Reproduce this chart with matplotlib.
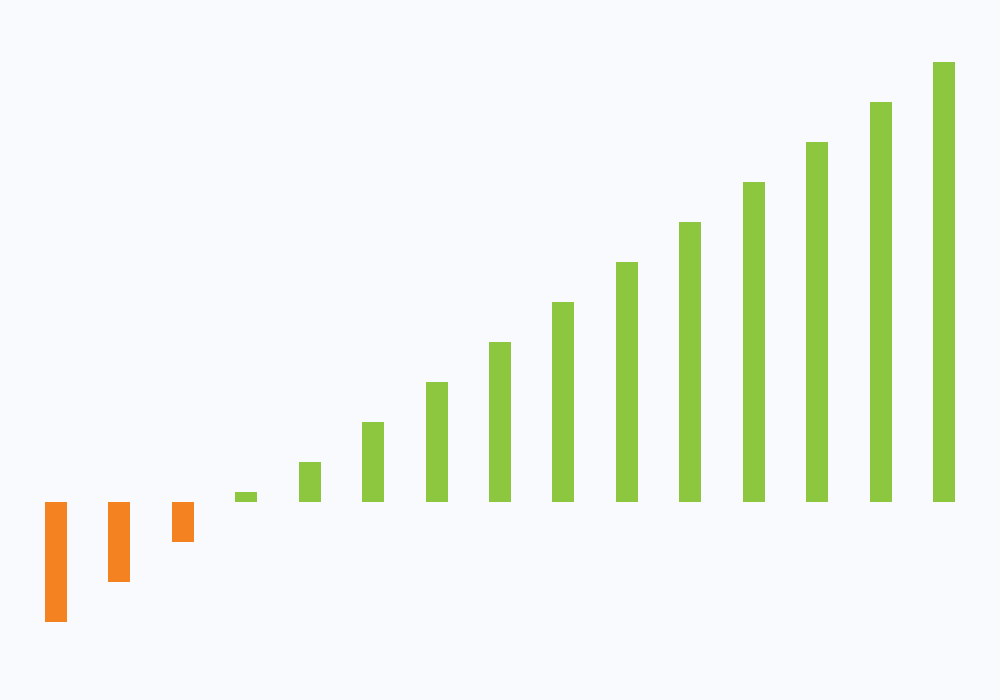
import numpy as np
import matplotlib.pyplot as plt

# Werte der Balken (von links nach rechts)
categories = list(range(15))
values = [-3, -2, -1, 0.25, 1, 2, 3, 4, 5, 6, 7, 8, 9, 10, 11]

bg = '#f8fafd'
colors = ['#f58220' if v < 0 else '#8dc63f' for v in values]

fig = plt.figure(figsize=(10, 7), dpi=100, facecolor=bg)
ax = fig.add_axes([0, 0, 1, 1])
ax.set_facecolor(bg)

ax.bar(categories, values, width=0.347, color=colors)

pad = 56 / 63.43
ax.set_xlim(-pad, 14 + pad)
ax.set_ylim(-198 / 40, 502 / 40)
ax.axis('off')

plt.savefig('out.png', dpi=100, facecolor=bg)
